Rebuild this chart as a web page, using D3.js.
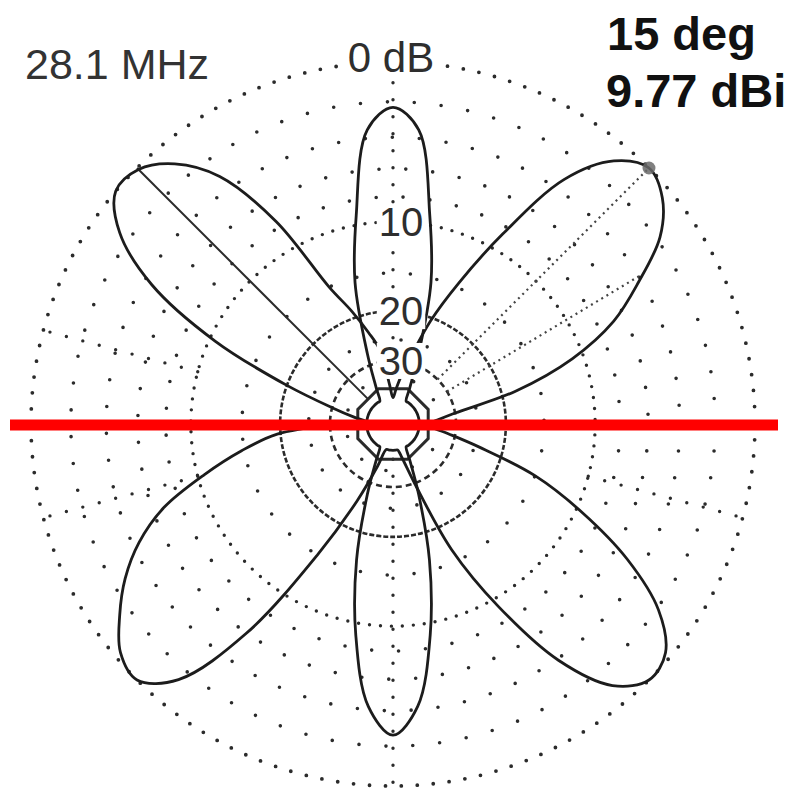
<!DOCTYPE html>
<html>
<head>
<meta charset="utf-8">
<script src="https://cdn.jsdelivr.net/npm/d3@7"></script>
<style>
body { margin: 0; background: #fff; }
</style>
</head>
<body>
<script>
// azimuth, degrees CCW from east (EZNEC style)
var azimuths = d3.range(0, 360, 5);

// 4-lobe pattern (dB, normalised to 0 dB = 9.77 dBi)
var cloverDb = [
  -40, -36, -30, -18, -11, -6.8, -4.2, -1.8, -0.5, 0, -0.9, -3.3,
  -8.6, -14.5, -20.5, -28, -34, -40, -45, -38, -27, -23, -19, -15,
  -7.5, -3.1, -1.1, -0.1, 0, -1.4, -4.5, -10.5, -20, -30, -38, -45,
  -32, -19.5, -14.7, -10.6, -6.8, -4.4, -2.7, -1.4, -0.3, 0, -1.4, -6,
  -15, -25, -36, -45, -45, -45, -45, -45, -45, -40, -30, -16.5,
  -9.3, -3.9, -1, 0, -0.3, -1.9, -5, -9.5, -15, -24, -32, -38
];

// narrow broadside pair at 90 / 270 deg
var pencilDb = [
  -45, -45, -45, -45, -45, -45, -45, -45, -45, -45, -45, -45,
  -45, -38, -27, -15.5, -9.2, -3.5, -2.3, -3.5, -9.2, -15.5, -27, -38,
  -45, -45, -45, -45, -45, -45, -45, -45, -45, -45, -45, -45,
  -45, -45, -45, -45, -45, -45, -45, -45, -45, -45, -45, -45,
  -45, -38, -27, -16.2, -9, -4.2, -2.6, -4.2, -9, -16.2, -27, -38,
  -45, -45, -45, -45, -45, -45, -45, -45, -45, -45, -45, -45
];

var denseRings = [0, -10, -20, -30];
var sparseRings = [-2, -4, -6, -8, -15, -25, -35];
var innerRing = -40;
var fullRadials = [0, 90, 180, 270];
var outerRadials = [165, 195, 345];
var solidRadial = 135;
var ringLabels = [{db: -10, text: "10"}, {db: -20, text: "20"}, {db: -30, text: "30"}];
var topLabel = "0 dB";
var freqLabel = "28.1 MHz";
var elevLabel = "15 deg";
var gainLabel = "9.77 dBi";
var cursorAz = 45, cursorDb = 0;
var halfPowerAz = 31, halfPowerDb = -3.7;

var W = 802, H = 805;
var cx = 393, cy = 424, R = 362;

var svg = d3.select("body").append("svg").attr("width", W).attr("height", H);

// ARRL log scale: radius x0.89 per 2 dB  ->  power law on the power ratio
var arrlExp = -5 * Math.log(0.89) / Math.LN10;
var rPow = d3.scalePow().exponent(arrlExp).domain([0, 1]).range([0, R]);
function r(db) { return rPow(Math.pow(10, db / 10)); }
function ang(az) { return (90 - az) * Math.PI / 180; }   // lineRadial angle
function px(az, db) { return r(db) * Math.cos(az * Math.PI / 180); }
function py(az, db) { return -r(db) * Math.sin(az * Math.PI / 180); }

var g = svg.append("g").attr("transform", "translate(" + cx + "," + cy + ")");
var ink = "#2b2b2b";

// sparse dotted rings
g.selectAll(".sparse").data(sparseRings).enter().append("circle")
  .attr("r", function (d) { return r(d); })
  .attr("fill", "none").attr("stroke", ink).attr("stroke-width", 3.6)
  .attr("stroke-linecap", "round").attr("stroke-dasharray", "0,27");

// dense rings
var denseStyle = {"0": ["0,16", 3.8], "-10": ["0,11", 3.4], "-20": ["5,2", 2.6], "-30": ["6,4", 2.6]};
g.selectAll(".dense").data(denseRings).enter().append("circle")
  .attr("r", function (d) { return r(d); })
  .attr("fill", "none").attr("stroke", ink)
  .attr("stroke-width", function (d) { return denseStyle[d][1]; })
  .attr("stroke-linecap", function (d) { return d >= -10 ? "round" : "butt"; })
  .attr("stroke-dasharray", function (d) { return denseStyle[d][0]; });

// -40 dB ring, drawn as the octagon of the original plot
var oct = d3.range(22.5, 360, 45);
g.append("path")
  .attr("d", d3.lineRadial().angle(function (a) { return ang(a); })
    .radius(r(innerRing) / Math.cos(Math.PI / 8)).curve(d3.curveLinearClosed)(oct))
  .attr("fill", "none").attr("stroke", ink).attr("stroke-width", 3);

// dotted radials
g.selectAll(".radfull").data(fullRadials).enter().append("line")
  .attr("x1", function (d) { return px(d, innerRing); }).attr("y1", function (d) { return py(d, innerRing); })
  .attr("x2", function (d) { return px(d, 0); }).attr("y2", function (d) { return py(d, 0); })
  .attr("stroke", ink).attr("stroke-width", 3.4).attr("stroke-linecap", "round")
  .attr("stroke-dasharray", "0,17");
g.selectAll(".radout").data(outerRadials).enter().append("line")
  .attr("x1", function (d) { return px(d, -10); }).attr("y1", function (d) { return py(d, -10); })
  .attr("x2", function (d) { return px(d, 0); }).attr("y2", function (d) { return py(d, 0); })
  .attr("stroke", ink).attr("stroke-width", 3.4).attr("stroke-linecap", "round")
  .attr("stroke-dasharray", "0,17");

// solid radial through upper-left lobe
g.append("line")
  .attr("x1", px(solidRadial, innerRing)).attr("y1", py(solidRadial, innerRing))
  .attr("x2", px(solidRadial, 0)).attr("y2", py(solidRadial, 0))
  .attr("stroke", ink).attr("stroke-width", 2);

// cursor and half-power lines
g.append("line")
  .attr("x1", px(cursorAz, -30)).attr("y1", py(cursorAz, -30))
  .attr("x2", px(cursorAz, cursorDb)).attr("y2", py(cursorAz, cursorDb))
  .attr("stroke", "#444").attr("stroke-width", 2.2).attr("stroke-dasharray", "2,4");
g.append("line")
  .attr("x1", px(halfPowerAz, -30)).attr("y1", py(halfPowerAz, -30))
  .attr("x2", px(halfPowerAz, halfPowerDb)).attr("y2", py(halfPowerAz, halfPowerDb))
  .attr("stroke", "#444").attr("stroke-width", 2.2).attr("stroke-dasharray", "2,4");

// patterns
var line = d3.lineRadial()
  .angle(function (d) { return ang(d.az); })
  .radius(function (d) { return r(d.db); })
  .curve(d3.curveCatmullRomClosed.alpha(0.5));

[cloverDb, pencilDb].forEach(function (series) {
  var pts = azimuths.map(function (a, i) { return {az: a, db: series[i]}; });
  g.append("path").attr("d", line(pts))
    .attr("fill", "none").attr("stroke", "#1c1c1c").attr("stroke-width", 2.8)
    .attr("stroke-linejoin", "round");
});

// cursor marker
g.append("circle")
  .attr("cx", px(cursorAz, cursorDb)).attr("cy", py(cursorAz, cursorDb))
  .attr("r", 6.5).attr("fill", "#6a6a6a").attr("opacity", 0.85);

// ring labels with white backing
function label(x, y, text, size) {
  var t = g.append("text").attr("x", x).attr("y", y).attr("text-anchor", "middle")
    .style("font-family", "'Liberation Sans', Arial, sans-serif")
    .style("font-size", size + "px").attr("fill", "#2e2e2e").text(text);
  var b = t.node().getBBox();
  g.insert("rect", function () { return t.node(); })
    .attr("x", b.x - 2).attr("y", b.y + 4).attr("width", b.width + 4).attr("height", b.height - 8)
    .attr("fill", "#fff");
}
label(-2, -r(0) + 10, topLabel, 42);
ringLabels.forEach(function (d) {
  label(8, -r(d.db) + 14, d.text, 40);
});

// header texts
svg.append("text").attr("x", 25).attr("y", 79)
  .style("font-family", "'Liberation Sans', Arial, sans-serif")
  .style("font-size", "43px").attr("fill", "#333").text(freqLabel);
svg.append("text").attr("x", 607).attr("y", 50)
  .style("font-family", "'Liberation Sans', Arial, sans-serif")
  .style("font-size", "47px").style("font-weight", "bold").attr("fill", "#111").text(elevLabel);
svg.append("text").attr("x", 606).attr("y", 107)
  .style("font-family", "'Liberation Sans', Arial, sans-serif")
  .style("font-size", "47px").style("font-weight", "bold").attr("fill", "#111").text(gainLabel);

// red horizon line
svg.append("line").attr("x1", 10).attr("x2", 778).attr("y1", 425).attr("y2", 425)
  .attr("stroke", "#ff0000").attr("stroke-width", 11);
</script>
</body>
</html>
